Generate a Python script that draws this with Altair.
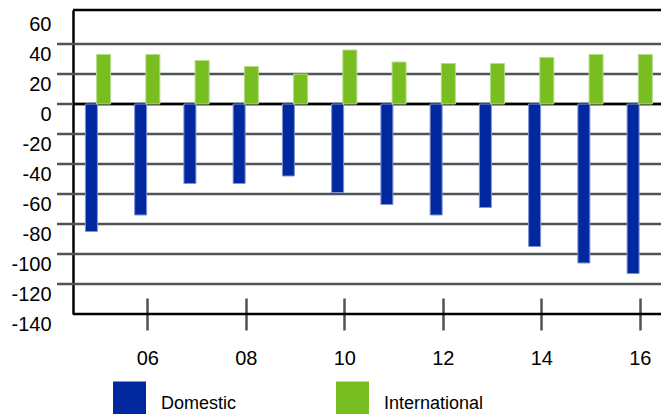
import altair as alt
import pandas as pd

# ---- data ----
years = [2005, 2006, 2007, 2008, 2009, 2010, 2011, 2012, 2013, 2014, 2015, 2016]
domestic = [-85, -74, -53, -53, -48, -59, -67, -74, -69, -95, -106, -113]
international = [33, 33, 29, 25, 20, 36, 28, 27, 27, 31, 33, 33]
series = ["Domestic", "International"]
y_label_values = [60, 40, 20, 0, -20, -40, -60, -80, -100, -120, -140]
grid_values = [40, 20, 0, -20, -40, -60, -80, -100, -120]
x_tick_values = [2006, 2008, 2010, 2012, 2014, 2016]

# ---- styling ----
W, H = 588, 304
BLUE = "#0029A0"
GREEN = "#78BE20"
GRID = "#4E5358"
FONT = "Liberation Sans"

bars = pd.DataFrame({
    "year": years * 2,
    "value": domestic + international,
    "series": [series[0]] * len(years) + [series[1]] * len(years),
})
grid_df = pd.DataFrame({"value": grid_values})
zero_df = pd.DataFrame({"value": [0]})
bottom_df = pd.DataFrame({"value": [y_label_values[-1]]})
one = pd.DataFrame({"k": [0]})

xs = alt.Scale(domain=[2004.49, 2016.43], nice=False, zero=False, padding=0)
ys = alt.Scale(domain=[-140, 62.67], nice=False, zero=False, padding=0)
color = alt.Color(
    "series:N",
    scale=alt.Scale(domain=series, range=[BLUE, GREEN]),
    legend=alt.Legend(
        title=None, orient="none", legendX=40, legendY=377, direction="horizontal",
        symbolType="M-1,-1.36H1V0.64H-1Z", symbolSize=1089, symbolStrokeWidth=0,
        symbolOpacity=1, labelFontSize=18, labelFont=FONT, labelColor="#000",
        labelOffset=15, columnPadding=99, padding=0,
    ),
)

x_axis = alt.Axis(
    values=x_tick_values, labelExpr="format(datum.value % 100, '02d')",
    title=None, grid=False, domain=False, ticks=True, tickSize=32, tickWidth=2.5,
    tickColor=GRID, offset=-16, labelPadding=18, labelFontSize=20, labelFont=FONT,
    labelColor="#000", labelFlush=False,
)
y_axis = alt.Axis(
    values=y_label_values, labelExpr="toString(datum.value)",
    title=None, grid=False, ticks=False, domain=True,
    domainColor="#000", domainWidth=2.5, labelPadding=22, labelOffset=10,
    labelFontSize=20, labelFont=FONT, labelColor="#000", orient="left",
    labelFlush=False,
)
Y = alt.Y("value:Q", scale=ys, axis=y_axis)
X = alt.X("year:Q", scale=xs, axis=x_axis)

grid = alt.Chart(grid_df).mark_rule(color=GRID, strokeWidth=2.5).encode(
    y=Y, x=alt.value(-16), x2=alt.value(W),
)
zero = alt.Chart(zero_df).mark_rule(color="#000", strokeWidth=2.5).encode(
    y=Y, x=alt.value(0), x2=alt.value(W),
)
dom = alt.Chart(bars).transform_filter(alt.datum.series == series[0]).mark_bar(
    width=12, xOffset=-6.7, stroke="#8193CF", strokeWidth=1
).encode(x=X, y=Y, color=color)
intl = alt.Chart(bars).transform_filter(alt.datum.series == series[1]).mark_bar(
    width=14, xOffset=5.5, stroke="#B3DB85", strokeWidth=1
).encode(x=X, y=Y, color=color)
top = alt.Chart(one).mark_rule(color="#000", strokeWidth=2.5).encode(
    y=alt.value(0), x=alt.value(0), x2=alt.value(W),
)
bottom = alt.Chart(bottom_df).mark_rule(color="#000", strokeWidth=2.5).encode(
    y=Y, x=alt.value(0), x2=alt.value(W),
)

chart = alt.layer(grid, zero, dom, intl, top, bottom).properties(
    width=W, height=H,
    autosize=alt.AutoSizeParams(type="none"),
    padding={"left": 73, "top": 10, "right": 0, "bottom": 100},
).configure_view(stroke=None)

chart.save("out.html", embed_options={"renderer": "svg", "actions": False})
